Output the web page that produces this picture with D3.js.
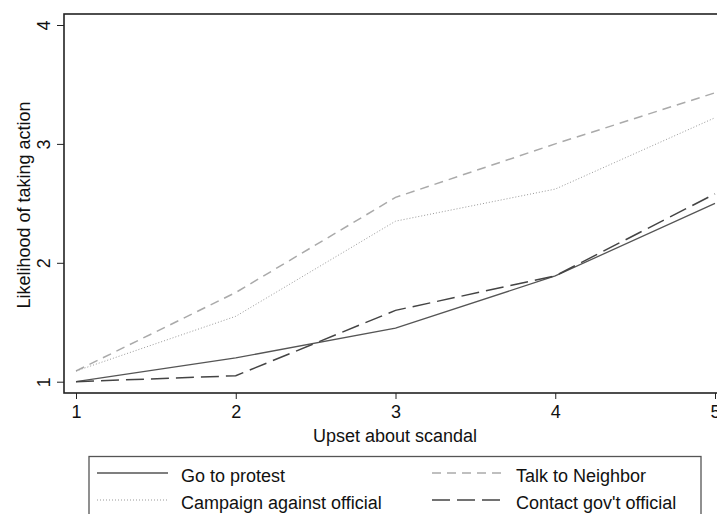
<!DOCTYPE html>
<html>
<head>
<meta charset="utf-8">
<script src="https://cdn.jsdelivr.net/npm/d3@7"></script>
<style>
  body { margin: 0; background: #fff; }
  svg { display: block; font-family: "Liberation Sans", Arial, sans-serif; }
</style>
</head>
<body>
<svg id="chart" width="717" height="514"></svg>
<script>
const upset = [1, 2, 3, 4, 5];
const protest = [1.0, 1.2, 1.45, 1.89, 2.5];
const neighbor = [1.09, 1.75, 2.55, 3.0, 3.43];
const campaign = [1.09, 1.55, 2.35, 2.62, 3.22];
const contact = [1.0, 1.05, 1.6, 1.89, 2.58];
const yTicks = [1, 2, 3, 4];

const series = [
  { name: 'Go to protest', values: protest, color: '#555', dash: null, width: 1.3 },
  { name: 'Talk to Neighbor', values: neighbor, color: '#aaa', dash: '9,6', width: 1.5 },
  { name: 'Campaign against official', values: campaign, color: '#999', dash: '1,2', width: 1 },
  { name: "Contact gov't official", values: contact, color: '#444', dash: '18,7', width: 1.5 }
];

const fontSize = 18;
const svg = d3.select('#chart');
const frameLeft = 64, frameTop = 14, frameBottom = 393, frameRight = 740;

const x = d3.scaleLinear().domain([1, 5]).range([76, 715]);
const y = d3.scaleLinear().domain([1, 4]).range([381.7, 25]);

// lines
const line = d3.line()
  .x((d, i) => x(upset[i]))
  .y(d => y(d));

svg.append('g')
  .selectAll('path')
  .data(series)
  .join('path')
  .attr('d', d => line(d.values))
  .attr('fill', 'none')
  .attr('stroke', d => d.color)
  .attr('stroke-width', d => d.width)
  .attr('stroke-dasharray', d => d.dash);

// frame
svg.append('rect')
  .attr('x', frameLeft).attr('y', frameTop)
  .attr('width', frameRight - frameLeft).attr('height', frameBottom - frameTop)
  .attr('fill', 'none')
  .attr('stroke', '#222')
  .attr('stroke-width', 1.6);

// x axis
const xAxis = svg.append('g')
  .attr('transform', `translate(0,${frameBottom})`)
  .call(d3.axisBottom(x).tickValues(upset).tickFormat(d3.format('d')).tickSize(6).tickPadding(6));
xAxis.select('.domain').remove();
xAxis.selectAll('line').attr('stroke', '#222');
xAxis.selectAll('text').attr('font-size', fontSize).attr('fill', '#111').attr('font-family', null);

// y axis
const yAxis = svg.append('g')
  .attr('transform', `translate(${frameLeft},0)`)
  .call(d3.axisLeft(y).tickValues(yTicks).tickFormat(d3.format('d')).tickSize(7));
yAxis.select('.domain').remove();
yAxis.selectAll('line').attr('stroke', '#222');
yAxis.selectAll('text')
  .attr('font-size', fontSize).attr('fill', '#111').attr('font-family', null)
  .attr('x', null).attr('dy', null)
  .attr('text-anchor', 'middle')
  .attr('transform', 'translate(-14,0) rotate(-90)');

// axis titles
svg.append('text')
  .attr('x', 395).attr('y', 442)
  .attr('text-anchor', 'middle')
  .attr('font-size', fontSize).attr('fill', '#111')
  .text('Upset about scandal');

svg.append('text')
  .attr('transform', 'translate(30,205) rotate(-90)')
  .attr('text-anchor', 'middle')
  .attr('font-size', fontSize).attr('fill', '#111')
  .text('Likelihood of taking action');

// legend
svg.append('rect')
  .attr('x', 89).attr('y', 456.5)
  .attr('width', 612).attr('height', 80)
  .attr('fill', 'none')
  .attr('stroke', '#555')
  .attr('stroke-width', 1.3);

const legendPos = [
  { x: 97, y: 482 },
  { x: 432, y: 482 },
  { x: 97, y: 509 },
  { x: 432, y: 509 }
];

const items = svg.append('g')
  .selectAll('g')
  .data(series)
  .join('g')
  .attr('transform', (d, i) => `translate(${legendPos[i].x},${legendPos[i].y})`);

items.append('line')
  .attr('x1', 0).attr('x2', 71)
  .attr('y1', -9).attr('y2', -9)
  .attr('stroke', d => d.color)
  .attr('stroke-width', d => d.width)
  .attr('stroke-dasharray', d => d.dash);

items.append('text')
  .attr('x', 84)
  .attr('font-size', fontSize).attr('fill', '#111')
  .text(d => d.name);
</script>
</body>
</html>
